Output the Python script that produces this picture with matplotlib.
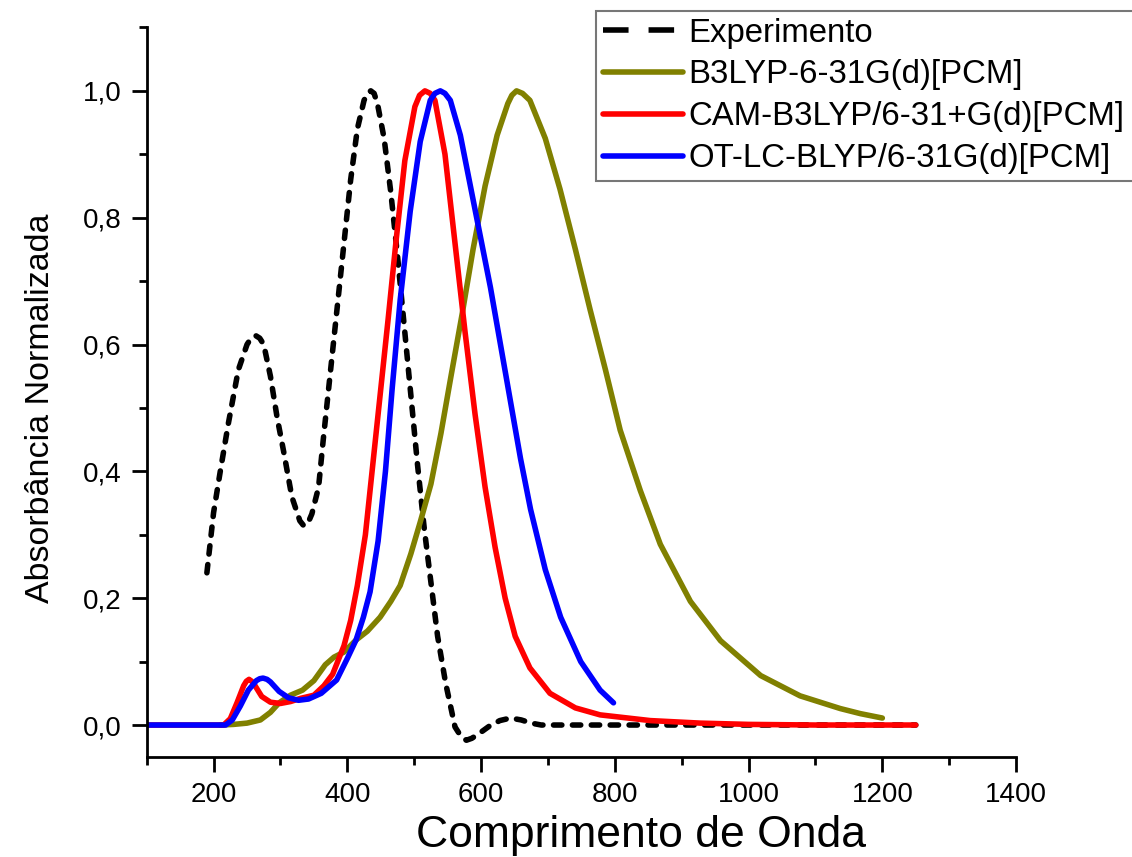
import numpy as np
import matplotlib.pyplot as plt
from matplotlib.lines import Line2D
from matplotlib.ticker import MultipleLocator, FuncFormatter

plt.rcParams['font.family'] = ['Liberation Sans', 'DejaVu Sans']

# experimental spectrum (dashed black)
exp_x = [190, 200, 210, 222, 237, 250, 256, 263, 269, 275, 285, 295, 305, 317,
         329, 335, 341, 347, 357, 364, 372, 379, 386, 395, 405, 415, 425, 430,
         435, 440, 445, 455, 465, 475, 485, 495, 505, 515, 525, 535, 547, 561,
         570, 578, 586, 595, 612, 628, 644, 660, 675, 690, 750, 850, 1000,
         1100, 1250]
exp_y = [0.24, 0.335, 0.40, 0.475, 0.56, 0.60, 0.61, 0.614, 0.61, 0.60, 0.55,
         0.485, 0.43, 0.36, 0.322, 0.314, 0.318, 0.333, 0.375, 0.45, 0.53,
         0.60, 0.67, 0.76, 0.86, 0.94, 0.985, 0.996, 1.0, 0.996, 0.98, 0.925,
         0.84, 0.74, 0.63, 0.52, 0.41, 0.31, 0.225, 0.14, 0.066, -0.003,
         -0.018, -0.024, -0.021, -0.015, -0.002, 0.007, 0.011, 0.008, 0.003,
         0.0, 0.0, 0.0, 0.0, 0.0, 0.0]

# B3LYP (olive)
b3_x = [210, 230, 250, 270, 285, 298, 315, 333, 350, 367, 380, 395, 413, 430,
        449, 465, 479, 495, 509, 525, 540, 555, 572, 588, 606, 624, 640, 646,
        653, 662, 673, 696, 718, 741, 763, 786, 808, 838, 868, 913, 958, 1018,
        1077, 1137, 1167, 1200]
b3_y = [0.0, 0.001, 0.003, 0.008, 0.02, 0.035, 0.047, 0.055, 0.07, 0.095,
        0.107, 0.115, 0.134, 0.148, 0.17, 0.195, 0.22, 0.27, 0.32, 0.38, 0.46,
        0.55, 0.65, 0.75, 0.85, 0.93, 0.98, 0.993, 1.0, 0.996, 0.985, 0.925,
        0.845, 0.75, 0.655, 0.56, 0.465, 0.37, 0.285, 0.195, 0.133, 0.078,
        0.046, 0.026, 0.018, 0.011]

# CAM-B3LYP (red)
cam_x = [100, 215, 225, 235, 245, 249, 253, 257, 262, 272, 285, 300, 315, 330,
         350, 365, 378, 395, 405, 415, 427, 437, 449, 461, 473, 486, 501, 508,
         516, 524, 531, 546, 561, 576, 591, 606, 621, 636, 651, 673, 703, 741,
         778, 853, 928, 1000, 1100, 1250]
cam_y = [0.0, 0.0, 0.01, 0.035, 0.062, 0.069, 0.072, 0.069, 0.062, 0.045,
         0.036, 0.034, 0.037, 0.042, 0.047, 0.062, 0.08, 0.125, 0.165, 0.22,
         0.30, 0.40, 0.52, 0.64, 0.765, 0.89, 0.975, 0.993, 1.0, 0.996, 0.985,
         0.90, 0.76, 0.62, 0.49, 0.375, 0.28, 0.20, 0.14, 0.09, 0.05, 0.027,
         0.016, 0.007, 0.003, 0.001, 0.0, 0.0]

# OT-LC-BLYP (blue)
ot_x = [100, 218, 228, 240, 252, 264, 269, 274, 280, 285, 298, 312, 327, 342,
        361, 384, 400, 413, 424, 434, 446, 457, 467, 479, 494, 509, 524, 531,
        539, 546, 554, 569, 584, 599, 614, 629, 644, 659, 674, 696, 719, 749,
        778, 798]
ot_y = [0.0, 0.0, 0.008, 0.03, 0.055, 0.07, 0.073, 0.074, 0.072, 0.068, 0.053,
        0.043, 0.039, 0.041, 0.05, 0.071, 0.105, 0.134, 0.17, 0.21, 0.29,
        0.40, 0.53, 0.67, 0.81, 0.92, 0.985, 0.996, 1.0, 0.996, 0.985, 0.93,
        0.85, 0.77, 0.69, 0.60, 0.51, 0.42, 0.34, 0.245, 0.17, 0.10, 0.055,
        0.035]

labels = ['Experimento', 'B3LYP-6-31G(d)[PCM]', 'CAM-B3LYP/6-31+G(d)[PCM]',
          'OT-LC-BLYP/6-31G(d)[PCM]']
olive = '#808000'

fig = plt.figure(figsize=(11.32, 8.57), dpi=100)
ax = fig.add_axes([0.1296, 0.117, 0.768, 0.851])

lw = 4.0
style = dict(lw=lw, solid_capstyle='round', solid_joinstyle='round')
ax.plot(exp_x, exp_y, color='black', lw=lw, dashes=(1.5, 1.9),
        dash_capstyle='round', dash_joinstyle='round')
ax.plot(b3_x, b3_y, color=olive, **style)
ax.plot(cam_x, cam_y, color='red', **style)
ax.plot(ot_x, ot_y, color='blue', **style)

ax.set_xlim(100, 1400)
ax.set_ylim(-0.05, 1.1)
for s in ['top', 'right']:
    ax.spines[s].set_visible(False)
for s in ['left', 'bottom']:
    ax.spines[s].set_linewidth(2)

ax.xaxis.set_minor_locator(MultipleLocator(100))
ax.yaxis.set_minor_locator(MultipleLocator(0.1))
ax.set_xticks([200, 400, 600, 800, 1000, 1200, 1400])
ax.set_yticks([0.0, 0.2, 0.4, 0.6, 0.8, 1.0])
ax.yaxis.set_major_formatter(FuncFormatter(lambda v, p: f'{v:.1f}'.replace('.', ',')))
ax.tick_params(which='major', length=11, width=2, labelsize=20)
ax.tick_params(axis='x', which='major', pad=7)
ax.tick_params(axis='y', which='major', pad=7)
ax.tick_params(which='minor', length=6, width=2)

ax.set_xlabel('Comprimento de Onda', fontsize=32, va='bottom')
ax.set_ylabel('Absorbância Normalizada', fontsize=24.5)
ax.xaxis.set_label_coords(0.569, -0.1365)
ax.yaxis.set_label_coords(-0.104, 0.478)

handles = [
    Line2D([], [], color='black', lw=lw, dashes=(4.6, 3.6)),
    Line2D([], [], color=olive, lw=lw, solid_capstyle='round'),
    Line2D([], [], color='red', lw=lw, solid_capstyle='round'),
    Line2D([], [], color='blue', lw=lw, solid_capstyle='round'),
]
leg = fig.legend(handles, labels, loc='upper left', mode='expand',
                 bbox_to_anchor=(596 / 1132, 0, 560 / 1132, 1 - 11 / 857),
                 fontsize=23.7, frameon=True, fancybox=False,
                 borderpad=0.2, labelspacing=0.33, handlelength=2.45,
                 handletextpad=0.15, borderaxespad=0)
leg.get_frame().set_edgecolor('#555555')
leg.get_frame().set_linewidth(1.5)

fig.savefig('out.png', dpi=100)
